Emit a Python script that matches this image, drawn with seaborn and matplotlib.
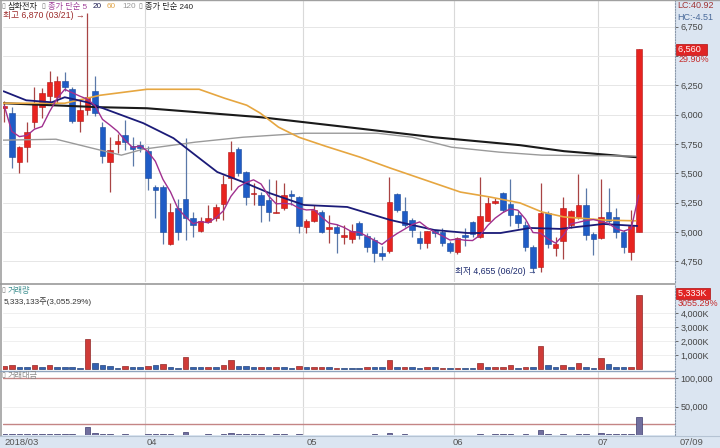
import numpy as np
import pandas as pd
import matplotlib
matplotlib.use("Agg")
import matplotlib.pyplot as plt
import seaborn as sns
from matplotlib.patches import Rectangle
from matplotlib.lines import Line2D

sns.set_theme(style="white")
plt.rcParams['font.family'] = ['Liberation Sans', 'Noto Sans CJK KR', 'DejaVu Sans']

# ---------------- data ----------------
opens = [6060, 6015, 5600, 5725, 5940, 6066, 6160, 6152, 6288, 6220,
         5947, 6040, 6203, 5896, 5597, 5750, 5827, 5733, 5740, 5691,
         5384, 5384, 4898, 5205, 5281, 5119, 5008, 5085, 5119, 5239,
         5461, 5708, 5512, 5320, 5315, 5273, 5162, 5205, 5324, 5298,
         5043, 5094, 5171, 5025, 5043, 4960, 4940, 5077, 4966, 4932,
         4820, 4838, 5324, 5179, 5102, 4949, 4906, 5010, 5000, 4906,
         4830, 4970, 5085, 4957, 5096, 5245, 5332, 5239, 5145, 5060,
         4872, 4700, 5162, 4864, 4923, 5060, 5128, 5230, 4983, 4949,
         5171, 5128, 5000, 4830, 5000]
highs = [6120, 6066, 5730, 5938, 6237, 6230, 6373, 6330, 6365, 6240,
         6126, 6870, 6330, 5938, 5810, 5836, 5955, 5810, 5780, 5733,
         5400, 5400, 5247, 5281, 5800, 5170, 5128, 5230, 5240, 5486,
         5776, 5725, 5520, 5420, 5340, 5452, 5440, 5418, 5360, 5307,
         5110, 5230, 5188, 5145, 5070, 5060, 5070, 5090, 4990, 4960,
         4880, 5469, 5330, 5298, 5120, 5010, 5010, 5020, 5030, 4920,
         4960, 5030, 5090, 5470, 5300, 5290, 5340, 5452, 5180, 5090,
         4890, 5418, 5180, 4960, 5298, 5190, 5495, 5375, 5000, 5452,
         5375, 5200, 5020, 5188, 6560]
lows = [5940, 5546, 5500, 5597, 5887, 5972, 6083, 6100, 6200, 5930,
        5853, 5998, 5990, 5589, 5341, 5674, 5700, 5563, 5680, 5358,
        5119, 4898, 4890, 4932, 4932, 4957, 5000, 5080, 5094, 5102,
        5358, 5480, 5230, 5230, 5085, 5094, 5160, 5190, 5230, 4991,
        4991, 5085, 4990, 4906, 4820, 4900, 4906, 4940, 4830, 4744,
        4760, 4820, 5170, 5040, 4960, 4855, 4860, 4960, 4880, 4820,
        4810, 4880, 4960, 4950, 5090, 5240, 5170, 5051, 5030, 4840,
        4655, 4660, 4860, 4795, 4770, 5030, 5110, 4932, 4804, 4940,
        5060, 4950, 4820, 4761, 5000]
closes = [6075, 5640, 5725, 5853, 6090, 6186, 6280, 6288, 6237, 5947,
          6040, 6152, 6015, 5648, 5700, 5776, 5768, 5708, 5720, 5461,
          5358, 5000, 5171, 5000, 5119, 5060, 5094, 5119, 5213, 5409,
          5682, 5503, 5298, 5330, 5230, 5171, 5171, 5315, 5307, 5051,
          5094, 5188, 5000, 5040, 4991, 4970, 5008, 4974, 4872, 4820,
          4795, 5256, 5188, 5060, 5017, 4906, 5008, 4995, 4906, 4840,
          4949, 4955, 4983, 5136, 5250, 5267, 5188, 5145, 5077, 4872,
          4693, 5162, 4898, 4898, 5205, 5179, 5230, 4974, 4940, 5128,
          5094, 5000, 4872, 5050, 6560]
volume_k = [214, 286, 190, 190, 333, 167, 286, 190, 190, 190,
            71, 2190, 476, 333, 214, 119, 214, 143, 143, 238,
            286, 381, 190, 95, 857, 143, 143, 190, 143, 286,
            643, 238, 214, 190, 190, 143, 190, 190, 95, 238,
            143, 143, 143, 143, 119, 71, 71, 119, 143, 190,
            143, 690, 143, 190, 143, 71, 143, 143, 95, 71,
            95, 119, 95, 452, 143, 190, 190, 286, 119, 190,
            143, 1666, 286, 143, 333, 143, 476, 190, 119, 785,
            357, 190, 190, 190, 5333]
volume_dir = (list("uuddududdd") + list("dudddduddu") + list("dudduddudu")
              + list("udddududdu") + list("duududddud") + list("dududdudud")
              + list("udduduuudu") + list("duddududdu") + list("ddduu"))
trade_value = [1300, 1607, 1083, 1111, 2028, 1034, 1790, 1195, 1186, 1130,
               429, 13800, 2904, 1898, 1200, 687, 1241, 815, 815, 1309,
               1510, 1938, 969, 485, 4542, 724, 724, 969, 739, 1525,
               3600, 1333, 1156, 1007, 998, 744, 988, 1007, 504, 1226,
               724, 735, 726, 715, 595, 353, 354, 595, 701, 922,
               686, 3519, 751, 969, 722, 351, 708, 715, 470, 346,
               466, 590, 475, 2350, 744, 999, 998, 1482, 607, 941,
               679, 8330, 1425, 698, 1698, 729, 2499, 969, 590, 4043,
               1839, 961, 937, 941, 32000]

ma20_x = [-0.1, 2.9, 6.3, 8.0, 11.0, 12.7, 18.4, 22.4, 25.3, 28.2, 31.6, 35.1, 39.7,
          45.4, 51.1, 56.9, 61.3, 65.7, 69.6, 73.6, 79.3, 83.8]
ma20_v = [6200, 6123, 6106, 6149, 6106, 6064, 5928, 5800, 5655, 5511, 5426, 5332, 5230,
          5213, 5102, 5017, 4991, 4991, 5034, 5026, 5068, 5051]
ma60_x = [-0.2, 8.0, 12.7, 18.9, 25.8, 29.2, 32.1, 33.9, 36.3, 39.0, 42.5, 47.1, 51.1,
          56.9, 60.4, 64.3, 68.3, 71.2, 74.1, 79.8, 83.6]
ma60_v = [6098, 6098, 6166, 6217, 6217, 6140, 6081, 6013, 5894, 5808, 5732, 5638, 5545,
          5417, 5340, 5298, 5247, 5170, 5128, 5100, 5095]
ma120_x = [-0.2, 6.85, 12.7, 15.5, 18.4, 25.3, 31.6, 39.7, 49.4, 54.0, 59.2, 65.5, 71.2, 83.6]
ma120_v = [5783, 5791, 5698, 5655, 5706, 5766, 5808, 5842, 5842, 5808, 5723, 5681, 5655, 5647]
ma240_x = [-0.2, 12.7, 18.9, 33.9, 45.4, 56.9, 68.3, 74.1, 83.6]
ma240_v = [6098, 6064, 6055, 5979, 5894, 5808, 5740, 5689, 5638]

month_labels = ["2018/03", "04", "05", "06", "07"]
month_start = [0, 19, 40, 60, 79]
price_ticks = [4750, 5000, 5250, 5500, 5750, 6000, 6250, 6500, 6750]
vol_ticks = [1000, 2000, 3000, 4000]
tv_ticks = [50000, 100000]

n = len(closes)
idx = np.arange(n)

RED = "#e8231f"
BLUE = "#1f5cc6"
PANEL_BG = "#dbe5f1"

W, H = 720, 448
fig = plt.figure(figsize=(7.2, 4.48), dpi=100)
fig.patch.set_facecolor("white")

def fx(x):
    return x / W

def fy(y):
    return 1 - y / H

L, R = 3, 675
ax = fig.add_axes([fx(L), fy(282), (R - L) / W, 281 / H])
axv = fig.add_axes([fx(L), fy(370), (R - L) / W, 86 / H])
axt = fig.add_axes([fx(L), fy(435), (R - L) / W, 63 / H])

fig.patches.append(Rectangle((fx(R), 0), 1 - fx(R), 1, transform=fig.transFigure,
                             facecolor=PANEL_BG, edgecolor="none", zorder=-5))
fig.patches.append(Rectangle((0, 0), 1, 13 / H, transform=fig.transFigure,
                             facecolor=PANEL_BG, edgecolor="none", zorder=-5))

xmin, xmax = -0.17, 88.8
for a in (ax, axv, axt):
    a.set_facecolor("white")
    a.set_xlim(xmin, xmax)
    for s in a.spines.values():
        s.set_visible(False)
    a.spines['right'].set_visible(True)
    a.spines['right'].set_linestyle((0, (1, 1.5)))
    a.spines['right'].set_color("#8a98aa")
    a.spines['right'].set_linewidth(0.8)
    a.set_xticks([])
    a.yaxis.tick_right()
    a.tick_params(axis='y', right=True, left=False, labelright=True, labelleft=False,
                  length=2.5, width=0.6, pad=1.5, labelsize=6.5, colors="#555555",
                  labelcolor="#444444")
    for ms in month_start[1:]:
        a.axvline(ms - 0.4, color="#d9d9d9", lw=0.8, zorder=0)

# ---------------- price panel ----------------
ax.set_ylim(4573, 6970)
ax.set_yticks(price_ticks)
ax.set_yticklabels([("" if tk == 6500 else f"{tk:,}") for tk in price_ticks])
for tk in price_ticks:
    ax.axhline(tk, color="#e6e6e6", lw=0.7, zorder=0)

for i in range(n):
    o, h, l, c = opens[i], highs[i], lows[i], closes[i]
    up = c >= o
    col = RED if up else BLUE
    wick = "#a84444" if up else "#5a78a8"
    ax.vlines(i, l, h, color=wick, lw=0.9, zorder=2)
    bot = min(o, c)
    hgt = max(abs(c - o), 9)
    ax.bar(i, hgt, bottom=bot, width=0.74, color=col,
           edgecolor=("#b01818" if up else "#1a4a9a"), linewidth=0.4, zorder=2.5)

ma5 = pd.Series(closes).rolling(5, min_periods=1).mean()
sns.lineplot(x=ma240_x, y=ma240_v, ax=ax, color="#1a1a1a", lw=1.5, estimator=None, zorder=3)
sns.lineplot(x=ma120_x, y=ma120_v, ax=ax, color="#9a9a9a", lw=1.0, estimator=None, zorder=3)
sns.lineplot(x=ma60_x, y=ma60_v, ax=ax, color="#e6a640", lw=1.2, estimator=None, zorder=3)
sns.lineplot(x=ma20_x, y=ma20_v, ax=ax, color="#1b1b78", lw=1.3, estimator=None, zorder=3)
sns.lineplot(x=idx, y=ma5.values, ax=ax, color="#a0308f", lw=1.0, estimator=None, zorder=3)
ax.set_xlim(xmin, xmax)
ax.set_xlabel("")
ax.set_ylabel("")

# ---------------- volume panel ----------------
dfv = pd.DataFrame({"idx": idx, "vol": volume_k, "dir": volume_dir})
sns.barplot(data=dfv, x="idx", y="vol", hue="dir", palette={"u": RED, "d": BLUE},
            native_scale=True, dodge=False, width=0.74, errorbar=None, legend=False,
            ax=axv, zorder=2)
for p in axv.patches:
    fc = np.array(p.get_facecolor())
    p.set_edgecolor(tuple(fc[:3] * 0.7) + (1,))
    p.set_linewidth(0.5)
axv.set_xlim(xmin, xmax)
axv.set_ylim(-50, 6093)
axv.set_yticks(vol_ticks)
axv.set_yticklabels([f"{tk:,}K" for tk in vol_ticks])
for tk in vol_ticks:
    axv.axhline(tk, color="#ececec", lw=0.6, zorder=0)
axv.set_xlabel("")
axv.set_ylabel("")
axv.set_xticks([])

# ---------------- trading value panel ----------------
dft = pd.DataFrame({"idx": idx, "tv": trade_value})
sns.barplot(data=dft, x="idx", y="tv", color="#6a67a6", native_scale=True, width=0.74,
            errorbar=None, ax=axt, zorder=2, edgecolor="#3e3d6e", linewidth=0.5)
axt.set_xlim(xmin, xmax)
axt.set_ylim(0, 111500)
axt.set_yticks(tv_ticks)
axt.set_yticklabels([f"{tk:,}" for tk in tv_ticks])
axt.axhline(50000, color="#ececec", lw=0.6, zorder=0)
axt.axhline(100000, color="#c48585", lw=1.0, zorder=1)
axt.axhline(20000, color="#c48585", lw=1.0, zorder=1)
axt.set_xlabel("")
axt.set_ylabel("")
axt.set_xticks([])

# ---------------- borders / separators ----------------
fig.add_artist(Line2D([0, 1], [fy(0.5), fy(0.5)], transform=fig.transFigure, color="#a0a0a0", lw=1))
fig.add_artist(Line2D([fx(1), fx(1)], [fy(436), 1], transform=fig.transFigure, color="#a0a0a0", lw=1.2))
fig.add_artist(Line2D([0, fx(R)], [fy(283.5), fy(283.5)], transform=fig.transFigure, color="#9a9a9a", lw=1.2))
fig.add_artist(Line2D([0, fx(R)], [fy(370.8), fy(370.8)], transform=fig.transFigure, color="#8fa4bd", lw=1.0))
fig.add_artist(Line2D([0, 1], [fy(435.5), fy(435.5)], transform=fig.transFigure, color="#b5c3d3", lw=0.8))

# ---------------- texts ----------------
FS = 5.9
def t(x, y, s, color, size=FS, **kw):
    fig.text(fx(x), fy(y), s, color=color, fontsize=size, va="center", ha="left", **kw)

t(1.5, 7, "▯", "#777777", size=5)
t(8, 7, "삼화전자", "#222222")
t(41, 7, "▯", "#777777", size=5)
t(47.5, 7, "종가 단순 5", "#a0409a")
t(93, 7, "20", "#1b1b50")
t(107, 7, "60", "#e0a448")
t(122, 7, "120", "#999999")
t(138, 7, "▯", "#777777", size=5)
t(145, 7, "종가 단순 240", "#222222")
t(3, 16, "최고 6,870 (03/21) →", "#9c2a2a", size=6.3)
t(455, 271, "최저 4,655 (06/20) →", "#1c2a6e", size=6.3)

t(1.5, 291, "▯", "#777777", size=5)
t(8, 291, "거래량", "#3d8f8f")
t(4, 301.5, "5,333,133주(3,055.29%)", "#333333")
t(1.5, 375.5, "▯", "#777777", size=5)
t(8, 375.5, "거래대금", "#8a8a8a")

t(677, 6, "LC:40.92", "#a03434", size=6.5)
t(677, 17, "HC:-4.51", "#4a6a9a", size=6.5)
fig.text(fx(677.5), fy(49.5), "6,560  ", color="white", fontsize=6.5, va="center", ha="left",
         bbox=dict(boxstyle="square,pad=0.15", facecolor="#e02424", edgecolor="#b01010", lw=0.5))
t(679, 59.5, "29.90%", "#c42a2a", size=6.5)
fig.text(fx(677.5), fy(293.5), "5,333K ", color="white", fontsize=6.5, va="center", ha="left",
         bbox=dict(boxstyle="square,pad=0.15", facecolor="#e02424", edgecolor="#b01010", lw=0.5))
t(678, 303.5, "3055.29%", "#c42a2a", size=6.5)

month_px = [3, 146, 306, 452, 597]
for lab, xp in zip(month_labels, month_px):
    t(xp + 1, 442, lab, "#555555", size=6.8)
t(680, 442, "07/09", "#555555", size=6.8)

fig.savefig("out.png", dpi=100)
